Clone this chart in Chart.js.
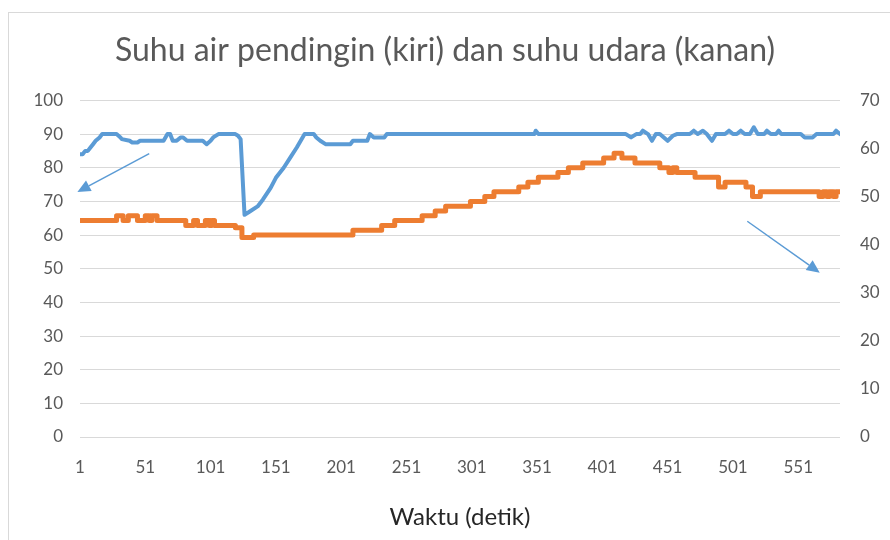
<!DOCTYPE html>
<html>
<head>
<meta charset="utf-8">
<script src="https://cdn.jsdelivr.net/npm/chart.js@4.4.1/dist/chart.umd.min.js"></script>
<style>
  html, body { margin: 0; padding: 0; background: #fff; overflow: hidden; }
  #frame { position: absolute; left: 8px; top: 12px; width: 900px; height: 560px; border: 1px solid #d9d9d9; }
  #wrap { position: absolute; left: 0; top: 0; width: 890px; height: 540px; }
</style>
</head>
<body>
<div id="frame"></div>
<div id="wrap"><canvas id="chart"></canvas></div>
<script>
  // ----- data -----
  const xTicks = [1, 51, 101, 151, 201, 251, 301, 351, 401, 451, 501, 551];
  const xMax = 583;

  // suhu air pendingin (sumbu kiri)
  const blueX = [1, 3, 5, 7, 9, 11, 13, 16, 18, 29, 32, 33, 39, 41, 45, 47, 65, 68, 70, 72, 75, 78, 80, 83, 95, 98, 101, 103, 107,
    120, 122, 124, 127, 131, 137, 141, 147, 151, 157, 162, 167, 170, 173, 180, 182, 185, 189, 208, 210, 221, 223, 226, 234, 236,
    349, 350, 352, 419, 423, 427, 430, 432, 436, 439, 442, 445, 451, 455, 458, 468, 471, 474, 478, 481, 483, 485, 488, 495, 498,
    501, 504, 507, 510, 514, 517, 520, 525, 527, 530, 534, 536, 538, 553, 556, 562, 565, 578, 580, 583];
  const blueY = [84, 84, 85, 85, 86, 87, 88, 89, 90, 90, 89, 88.5, 88, 87.5, 87.5, 88, 88, 90, 90, 88, 88, 89, 89, 88, 88, 87, 88, 89, 90,
    90, 89.5, 88.5, 66, 67, 68.5, 70.5, 74, 77, 80, 83, 86, 88, 90, 90, 89, 88, 87, 87, 88, 88, 90, 89, 89, 90,
    90, 91, 90, 90, 89, 90, 90, 91, 90, 88, 90, 90, 88, 89.5, 90, 90, 91, 90, 91, 90, 89, 88, 90, 90, 91,
    90, 90, 91, 90, 90, 92, 90, 90, 91, 90, 90, 91, 90, 90, 89, 89, 90, 90, 91, 90];

  // suhu udara (sumbu kanan), titik perubahan nilai
  const orangeX = [1, 29, 34, 38, 45, 51, 54, 56, 60, 82, 88, 91, 97, 100, 102, 104, 120, 125, 134, 210, 232, 242, 263, 273,
    281, 300, 311, 318, 337, 344, 352, 367, 375, 386, 402, 410, 416, 426, 445, 452, 455, 458, 472, 490, 495, 511, 516, 522,
    567, 570, 573, 575, 578, 580, 583];
  const orangeY = [45, 46, 45, 46, 45, 46, 45, 46, 45, 44, 45, 44, 45, 44, 45, 44, 43.5, 41.5, 42, 43, 44, 45, 46, 47,
    48, 49, 50, 51, 52, 53, 54, 55, 56, 57, 58, 59, 58, 57, 56, 55, 56, 55, 54, 52, 53, 52, 50, 51,
    50, 51, 50, 51, 50, 51, 51];

  // panah anotasi: [x, nilai sumbu kiri]
  const arrowFrom = [[54, 84.2], [512, 64.1]];
  const arrowTo = [[-1, 72.8], [567.5, 48.8]];

  const BLUE = '#5B9BD5';
  const ORANGE = '#ED7D31';
  const GRID = '#D9D9D9';
  const TEXT = '#595959';
  const FONT = 'Lato, "Open Sans", sans-serif';

  const toPoints = (xs, ys) => xs.map((x, i) => ({ x, y: ys[i] }));

  const arrowPlugin = {
    id: 'arrows',
    afterDatasetsDraw(chart) {
      const { ctx } = chart;
      const sx = chart.scales.x, sy = chart.scales.y;
      ctx.save();
      ctx.strokeStyle = BLUE;
      ctx.fillStyle = BLUE;
      ctx.lineWidth = 1.5;
      arrowFrom.forEach((f, i) => {
        const t = arrowTo[i];
        const x0 = sx.getPixelForValue(f[0]), y0 = sy.getPixelForValue(f[1]);
        const x1 = sx.getPixelForValue(t[0]), y1 = sy.getPixelForValue(t[1]);
        const ang = Math.atan2(y1 - y0, x1 - x0);
        const len = 13, half = 6;
        const bx = x1 - len * Math.cos(ang), by = y1 - len * Math.sin(ang);
        ctx.beginPath();
        ctx.moveTo(x0, y0);
        ctx.lineTo(bx, by);
        ctx.stroke();
        ctx.beginPath();
        ctx.moveTo(x1, y1);
        ctx.lineTo(bx + half * Math.sin(ang), by - half * Math.cos(ang));
        ctx.lineTo(bx - half * Math.sin(ang), by + half * Math.cos(ang));
        ctx.closePath();
        ctx.fill();
      });
      ctx.restore();
    }
  };

  new Chart(document.getElementById('chart'), {
    type: 'line',
    data: {
      datasets: [
        {
          label: 'Suhu air pendingin',
          data: toPoints(blueX, blueY),
          yAxisID: 'y',
          borderColor: BLUE,
          borderWidth: 4,
          pointRadius: 0,
          borderJoinStyle: 'round',
          borderCapStyle: 'round',
          tension: 0
        },
        {
          label: 'Suhu udara',
          data: toPoints(orangeX, orangeY),
          yAxisID: 'y1',
          borderColor: ORANGE,
          borderWidth: 5,
          pointRadius: 0,
          stepped: true,
          borderJoinStyle: 'round',
          borderCapStyle: 'round'
        }
      ]
    },
    options: {
      responsive: true,
      maintainAspectRatio: false,
      animation: false,
      layout: { padding: 0 },
      plugins: {
        legend: { display: false },
        tooltip: { enabled: false },
        title: {
          display: true,
          text: 'Suhu air pendingin (kiri) dan suhu udara (kanan)',
          color: TEXT,
          font: { family: FONT, size: 32, weight: 'normal' },
          padding: { top: 31, bottom: 31 }
        }
      },
      scales: {
        x: {
          type: 'linear',
          min: 1,
          max: xMax,
          afterBuildTicks: (axis) => { axis.ticks = xTicks.map(v => ({ value: v })); },
          afterFit: (axis) => { axis.height = 103; },
          grid: { display: false, drawTicks: false },
          border: { display: false },
          ticks: {
            color: TEXT,
            font: { family: FONT, size: 17 },
            padding: 20,
            autoSkip: false,
            maxRotation: 0
          },
          title: {
            display: true,
            text: 'Waktu (detik)',
            color: '#262626',
            font: { family: FONT, size: 24 },
            padding: { top: 20, bottom: 8 }
          }
        },
        y: {
          position: 'left',
          min: 0,
          max: 100,
          afterFit: (axis) => { axis.width = 80; },
          grid: { color: GRID, lineWidth: 1, drawTicks: false },
          border: { display: false },
          ticks: { stepSize: 10, color: TEXT, font: { family: FONT, size: 17 }, padding: 17 }
        },
        y1: {
          position: 'right',
          min: 0,
          max: 70,
          afterFit: (axis) => { axis.width = 50; },
          grid: { display: false, drawTicks: false },
          border: { display: false },
          ticks: { stepSize: 10, color: TEXT, font: { family: FONT, size: 17 }, padding: 20 }
        }
      }
    },
    plugins: [arrowPlugin]
  });
</script>
</body>
</html>
